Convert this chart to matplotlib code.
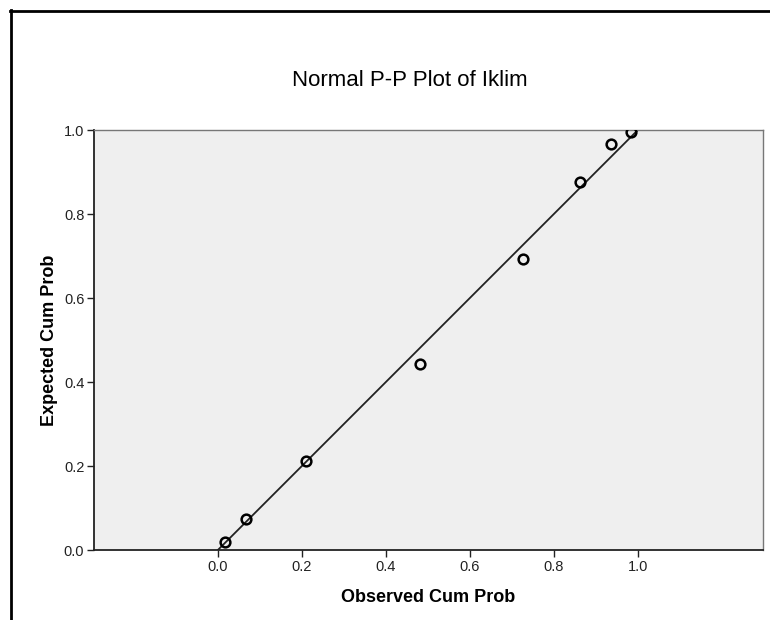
import matplotlib
matplotlib.use("Agg")
import matplotlib.pyplot as plt
from matplotlib.lines import Line2D

observed = [0.017, 0.068, 0.210, 0.481, 0.727, 0.862, 0.936, 0.983]
expected = [0.018, 0.074, 0.212, 0.442, 0.693, 0.877, 0.966, 0.995]
ticks = [0.0, 0.2, 0.4, 0.6, 0.8, 1.0]
tick_labels = ["0.0", "0.2", "0.4", "0.6", "0.8", "1.0"]
title = "Normal P-P Plot of Iklim"
xlabel = "Observed Cum Prob"
ylabel = "Expected Cum Prob"

plt.rcParams['font.family'] = ['Liberation Sans', 'DejaVu Sans']

W, H = 770, 620
fig = plt.figure(figsize=(W / 100, H / 100), dpi=100)
fig.patch.set_facecolor("white")

# outer frame lines
fig.add_artist(Line2D([11 / W, 11 / W], [0, 1 - 10 / H], transform=fig.transFigure,
                      color="black", lw=2))
fig.add_artist(Line2D([10 / W, 1], [1 - 11 / H, 1 - 11 / H], transform=fig.transFigure,
                      color="black", lw=2))

left, right, top, bottom = 94, 763, 130, 550
aw, ah = right - left, bottom - top
ax = fig.add_axes([left / W, (H - bottom) / H, aw / W, ah / H])
ax.set_facecolor("#efefef")

ax.plot([0, 1], [0, 1], color="#222222", lw=1.3, zorder=2)
ax.plot(observed, expected, linestyle="none", marker="o", markersize=7,
        markerfacecolor="none", markeredgecolor="black", markeredgewidth=1.8, zorder=3)

ax.set_xlim(-0.295, 1.298)
ax.set_ylim(0, 1)
ax.set_xticks(ticks)
ax.set_xticklabels(tick_labels)
ax.set_yticks(ticks)
ax.set_yticklabels(tick_labels)
ax.tick_params(direction="out", length=5, width=1, color="#222222",
               labelsize=10.5, labelcolor="#222222", pad=2)

for s in ["left", "bottom"]:
    ax.spines[s].set_color("#222222")
    ax.spines[s].set_linewidth(1.3)
for s in ["top", "right"]:
    ax.spines[s].set_color("#777777")
    ax.spines[s].set_linewidth(1.0)

ax.set_xlabel(xlabel, fontsize=13, fontweight="bold", va="center")
ax.set_ylabel(ylabel, fontsize=13, fontweight="bold", va="center")
ax.xaxis.set_label_coords(0.5, (bottom - 598) / ah)
ax.yaxis.set_label_coords((50 - left) / aw, 0.5)

fig.text(410 / W, 1 - 80 / H, title, ha="center", va="center", fontsize=16,
         color="#000000")

fig.savefig("out.png", dpi=100, facecolor="white")
